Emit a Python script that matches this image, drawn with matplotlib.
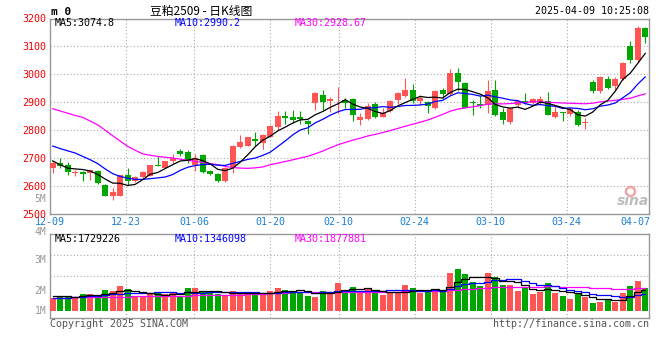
import numpy as np
import pandas as pd
import matplotlib
matplotlib.use('Agg')
import matplotlib.pyplot as plt

plt.rcParams['font.family'] = ['DejaVu Sans Mono']

# ---- data (豆粕2509, daily, 2024-12-09 .. 2025-04-09) ----
open_ = [2663, 2681, 2675, 2645, 2648, 2645, 2653, 2604, 2562, 2564,
         2640, 2616, 2630, 2636, 2675, 2665, 2687, 2725, 2720, 2675,
         2711, 2651, 2643, 2616, 2667, 2738, 2744, 2768, 2753, 2776,
         2812, 2850, 2845, 2848, 2833, 2898, 2927, 2904, 2899, 2907,
         2911, 2836, 2838, 2893, 2848, 2869, 2907, 2923, 2945, 2905,
         2901, 2877, 2945, 2929, 3005, 2970, 2901, 2893, 2889, 2943,
         2866, 2830, 2889, 2905, 2898, 2901, 2905, 2845, 2863, 2857,
         2866, 2824, 2973, 2939, 2984, 2957, 2982, 3100, 3052, 3165]
close = [2681, 2671, 2648, 2648, 2641, 2655, 2610, 2564, 2576, 2637,
         2616, 2630, 2648, 2673, 2669, 2687, 2699, 2714, 2687, 2699,
         2648, 2643, 2616, 2664, 2743, 2755, 2774, 2762, 2782, 2814,
         2850, 2842, 2836, 2839, 2822, 2933, 2901, 2910, 2901, 2898,
         2854, 2848, 2886, 2845, 2862, 2905, 2933, 2945, 2905, 2913,
         2886, 2939, 2929, 3005, 2973, 2880, 2898, 2886, 2939, 2854,
         2836, 2877, 2904, 2898, 2910, 2911, 2854, 2866, 2860, 2874,
         2818, 2830, 2939, 2990, 2952, 2984, 3041, 3052, 3165, 3132]
high = [2687, 2699, 2684, 2657, 2651, 2657, 2657, 2607, 2590, 2640,
        2663, 2633, 2651, 2675, 2705, 2689, 2714, 2732, 2729, 2713,
        2714, 2657, 2645, 2667, 2747, 2782, 2776, 2794, 2786, 2818,
        2868, 2868, 2872, 2868, 2836, 2937, 2943, 2919, 2955, 2913,
        2913, 2860, 2898, 2899, 2877, 2907, 2937, 2985, 2964, 2927,
        2905, 2943, 2949, 3020, 3024, 2973, 2907, 2923, 2981, 2979,
        2878, 2880, 2907, 2933, 2916, 2921, 2937, 2886, 2866, 2881,
        2872, 2842, 2979, 2994, 2993, 2990, 3044, 3121, 3172, 3170]
low = [2645, 2663, 2640, 2636, 2616, 2619, 2607, 2564, 2548, 2564,
       2604, 2612, 2627, 2633, 2669, 2663, 2681, 2705, 2681, 2651,
       2645, 2637, 2612, 2612, 2645, 2735, 2743, 2744, 2732, 2774,
       2800, 2822, 2824, 2822, 2785, 2871, 2871, 2863, 2860, 2877,
       2833, 2818, 2836, 2844, 2845, 2866, 2893, 2919, 2898, 2889,
       2862, 2876, 2913, 2925, 2941, 2877, 2854, 2877, 2860, 2850,
       2822, 2822, 2877, 2893, 2893, 2889, 2854, 2842, 2833, 2850,
       2814, 2803, 2934, 2933, 2946, 2945, 2981, 3041, 3045, 3112]
# volume in millions
vol_m = [1.02, 1.21, 1.21, 1.10, 1.37, 1.37, 1.29, 1.69, 1.61, 2.02,
         1.77, 1.16, 1.16, 1.34, 1.56, 1.37, 1.45, 1.24, 1.88, 1.88,
         1.61, 1.48, 1.34, 1.24, 1.61, 1.51, 1.42, 1.34, 1.42, 1.61,
         1.88, 1.69, 1.56, 1.56, 1.24, 1.16, 1.61, 1.56, 2.28, 1.69,
         1.94, 1.48, 1.88, 1.64, 1.29, 1.42, 1.42, 2.10, 1.88, 1.48,
         1.69, 1.77, 1.69, 3.09, 3.39, 2.98, 2.37, 2.02, 3.09, 2.72,
         2.10, 2.10, 1.64, 1.83, 1.40, 1.56, 2.28, 1.48, 1.24, 0.97,
         1.48, 1.16, 0.67, 0.75, 0.97, 0.75, 1.48, 2.04, 2.45, 1.88]

# moving average values before the window has enough history
ma5_head = [2689, 2675, 2663, 2660]
ma10_head = [2742, 2733, 2725, 2717, 2705, 2693, 2679, 2660, 2643]
ma30_head = [2876, 2868, 2860, 2852, 2845, 2832, 2818, 2799, 2779, 2760,
             2741, 2727, 2714, 2709, 2705, 2702, 2699, 2695, 2691, 2687,
             2683, 2679, 2675, 2669, 2665, 2663, 2662, 2664, 2667]
vma5_head = [1.21, 1.20, 1.18, 1.17]
vma10_head = [1.08, 1.08, 1.09, 1.10, 1.14, 1.19, 1.24, 1.29, 1.34]
vma30_head = [1.08, 1.08, 1.09, 1.10, 1.10, 1.11, 1.12, 1.13, 1.14, 1.16,
              1.17, 1.18, 1.19, 1.20, 1.21, 1.22, 1.23, 1.24, 1.25, 1.26,
              1.27, 1.28, 1.29, 1.30, 1.31, 1.33, 1.35, 1.37, 1.40]

tick_days = [0, 10, 19, 29, 38, 48, 58, 68, 77]
tick_labels = ['12-09', '12-23', '01-06', '01-20', '02-10',
               '02-24', '03-10', '03-24', '04-07']

price_legend = ['MA5:3074.8', 'MA10:2990.2', 'MA30:2928.67']
vol_legend = ['MA5:1729226', 'MA10:1346098', 'MA30:1877881']

RED = '#ff5555'
GREEN = '#00a600'
GRID = '#aaaaaa'
BORDER = '#999999'


def moving_avg(values, n, head):
    s = pd.Series(values, dtype=float).rolling(n).mean().to_numpy()
    s[:len(head)] = head
    return s


o = np.array(open_, dtype=float)
c = np.array(close, dtype=float)
hi = np.array(high, dtype=float)
lo = np.array(low, dtype=float)
vol = np.array(vol_m) * 1e6
x = np.arange(len(c))
colors = np.where(c >= o, RED, GREEN)

ma5 = moving_avg(c, 5, ma5_head)
ma10 = moving_avg(c, 10, ma10_head)
ma30 = moving_avg(c, 30, ma30_head)
vma5 = moving_avg(vol, 5, np.array(vma5_head) * 1e6)
vma10 = moving_avg(vol, 10, np.array(vma10_head) * 1e6)
vma30 = moving_avg(vol, 30, np.array(vma30_head) * 1e6)

# grid columns are spaced a little wider than candles in the original
tick_pos = np.array(tick_days) * 1.0133 - 0.36
xlim = (-0.36, 79.5)

W, H = 660, 360


def fx(px):
    return px / W


def fy(py):
    return 1 - py / H


fig = plt.figure(figsize=(6.6, 3.6), dpi=100)
ax = fig.add_axes([fx(50), fy(213.5), fx(649) - fx(50), fy(18.5) - fy(213.5)])
axv = fig.add_axes([fx(50), fy(317.7), fx(649) - fx(50), fy(234.3) - fy(317.7)])

# ---- price panel ----
ax.vlines(x, lo, hi, colors=colors, lw=0.8, zorder=2)
ax.bar(x, np.maximum(np.abs(c - o), 2.5), bottom=np.minimum(o, c),
       width=0.8, color=colors, linewidth=0, zorder=3)
ax.plot(x, ma30, color='#ff00ff', lw=0.9, zorder=4)
ax.plot(x, ma10, color='#0000ff', lw=0.9, zorder=4)
ax.plot(x, ma5, color='black', lw=0.9, zorder=4)

ax.set_xlim(*xlim)
ax.set_ylim(2500, 3200)
ax.set_yticks(range(2500, 3201, 100))
ax.tick_params(axis='y', length=0, pad=2.4, labelcolor='#ee0000', labelsize=7.2)
ax.set_xticks(tick_pos)
ax.set_xticklabels(tick_labels)
ax.tick_params(axis='x', length=0, pad=2.5, labelcolor='#1a7fd4', labelsize=7.2)
for yv in range(2600, 3200, 100):
    ax.axhline(yv, color=GRID, ls=(0, (1, 2)), lw=0.8, zorder=1)
for xv in tick_pos[1:-1]:
    ax.axvline(xv, color=GRID, ls=(0, (1, 2)), lw=0.8, zorder=1)

# ---- volume panel ----
axv.bar(x, vol, width=0.8, color=colors, linewidth=0, zorder=3)
axv.plot(x, vma30, color='#ff00ff', lw=0.9, drawstyle='steps-mid', zorder=4)
axv.plot(x, vma10, color='#0000ff', lw=0.9, drawstyle='steps-mid', zorder=4)
axv.plot(x, vma5, color='black', lw=0.9, drawstyle='steps-mid', zorder=4)
axv.set_xlim(*xlim)
vlo, vhi = -0.54e6, 6.19e6
axv.set_ylim(vlo, vhi)
axv.set_xticks([])
axv.set_yticks([])
for frac in (0.75, 0.5):
    axv.axhline(vlo + (vhi - vlo) * frac, color=GRID, ls=(0, (1, 2)), lw=0.8, zorder=1)
for xv in tick_pos[1:-1]:
    axv.axvline(xv, color=GRID, ls=(0, (1, 2)), lw=0.8, zorder=1)

for a in (ax, axv):
    for sp in a.spines.values():
        sp.set_color(BORDER)
        sp.set_linewidth(1.0)
    a.set_facecolor('white')

# ---- texts ----
fig.text(fx(51), fy(12), 'm 0', fontsize=8, weight='bold', va='center', ha='left')
fig.text(fx(201), fy(11.5), '豆粕2509 - 日K线图', fontsize=8.5, va='center', ha='center',
         family=['Noto Sans CJK SC', 'DejaVu Sans'])
fig.text(fx(649), fy(11.5), '2025-04-09 10:25:08', fontsize=7.2, va='center', ha='right')

leg_colors = ['black', '#0000ff', '#ff00ff']
leg_x = [55, 174.5, 295]
for t, col, px in zip(price_legend, leg_colors, leg_x):
    fig.text(fx(px), fy(23.5), t, fontsize=7.2, color=col, va='center', ha='left')
for t, col, px in zip(vol_legend, leg_colors, leg_x):
    fig.text(fx(px), fy(238.7), t, fontsize=7.2, color=col, va='center', ha='left')

for lab, py in [('5M', 199.5), ('4M', 231.5), ('3M', 260), ('2M', 290.5), ('1M', 311)]:
    fig.text(fx(46.5), fy(py), lab, fontsize=7, color='#999999', va='center', ha='right')

fig.text(fx(50), fy(324), 'Copyright 2025 SINA.COM', fontsize=7.2, color='#555555',
         va='center', ha='left')
fig.text(fx(649), fy(324), 'http://finance.sina.com.cn', fontsize=7.2, color='#555555',
         va='center', ha='right')

# sina watermark
fig.text(fx(633), fy(201), 'sina', fontsize=10, style='italic', weight='bold',
         color='#bdbdbd', family='DejaVu Sans', va='center', ha='center')
fig.add_artist(plt.Line2D([fx(630)], [fy(191)], marker='o', markersize=6.5,
                          mfc='none', mec='#f2a5a5', mew=1.8, transform=fig.transFigure))

fig.savefig('out.png', dpi=100)
